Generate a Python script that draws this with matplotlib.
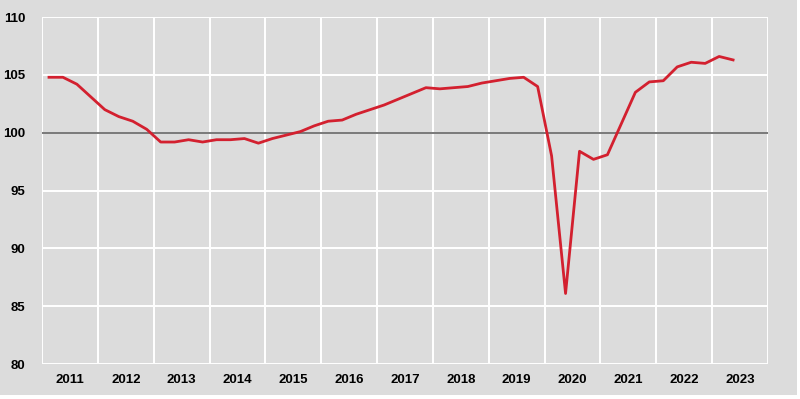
import matplotlib.pyplot as plt
from matplotlib.patches import Rectangle
from matplotlib.ticker import FixedLocator, NullFormatter
import numpy as np

# quarterly index, 2011Q1 .. 2023Q2
years = list(range(2011, 2024))
values = [104.8, 104.8, 104.2, 103.1,
          102.0, 101.4, 101.0, 100.3,
          99.2, 99.2, 99.4, 99.2,
          99.4, 99.4, 99.5, 99.1,
          99.5, 99.8, 100.1, 100.6,
          101.0, 101.1, 101.6, 102.0,
          102.4, 102.9, 103.4, 103.9,
          103.8, 103.9, 104.0, 104.3,
          104.5, 104.7, 104.8, 104.0,
          98.0, 86.1, 98.4, 97.7,
          98.1, 100.8, 103.5, 104.4,
          104.5, 105.7, 106.1, 106.0,
          106.6, 106.3]

# x position: middle of each quarter
xq = [2011 + (i + 0.5) / 4 for i in range(len(values))]

bg = "#dcdcdc"
fig = plt.figure(figsize=(8, 3.99), dpi=100)
fig.patch.set_facecolor("white")
fig.patches.append(Rectangle((0, 0.01), 0.996, 0.99, transform=fig.transFigure,
                             facecolor=bg, edgecolor="none", zorder=-10))

ax = fig.add_axes([0.0525, 0.0877, 0.9075, 0.8693])
ax.set_facecolor(bg)
for s in ax.spines.values():
    s.set_visible(False)

ax.set_xlim(2011, 2024)
ax.set_ylim(80, 110)

ax.xaxis.set_major_locator(FixedLocator(range(2011, 2025)))
ax.xaxis.set_major_formatter(NullFormatter())
ax.xaxis.set_minor_locator(FixedLocator([y + 0.5 for y in years]))
ax.xaxis.set_minor_formatter(plt.FixedFormatter([str(y) for y in years]))
ax.set_yticks(np.arange(80, 111, 5))

ax.grid(True, which="major", color="white", linewidth=1.4)
ax.set_axisbelow(True)
ax.tick_params(which="both", length=0)
ax.tick_params(axis="x", which="minor", pad=7)
ax.tick_params(axis="y", pad=12)

for lab in ax.get_xticklabels(minor=True) + ax.get_yticklabels():
    lab.set_fontfamily(["Liberation Sans", "DejaVu Sans"])
    lab.set_fontweight("bold")
    lab.set_fontsize(9.5)

ax.axhline(100, color="#6e6e6e", linewidth=1.3, zorder=2)
ax.plot(xq, values, color="#d3202f", linewidth=2.0, zorder=3)

fig.savefig("out.png", dpi=100, facecolor=fig.get_facecolor())
